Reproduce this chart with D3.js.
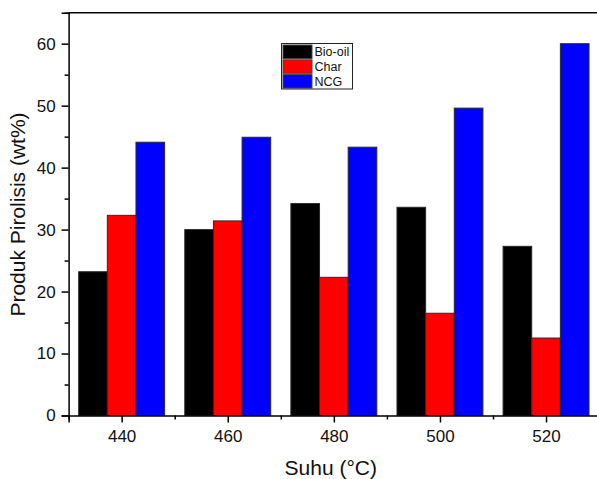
<!DOCTYPE html>
<html>
<head>
<meta charset="utf-8">
<script src="https://cdn.jsdelivr.net/npm/d3@7"></script>
<style>
  html, body { margin: 0; padding: 0; background: #fff; }
  svg { display: block; font-family: Arial, "Liberation Sans", sans-serif; }
</style>
</head>
<body>
<svg id="chart" width="597" height="479"></svg>
<script>
const categories = [440, 460, 480, 500, 520];
const seriesNames = ["Bio-oil", "Char", "NCG"];
const bioOil = [23.2, 30.0, 34.2, 33.6, 27.3];
const charV = [32.3, 31.4, 22.3, 16.5, 12.5];
const ncg = [44.1, 44.9, 43.3, 49.6, 60.0];
const seriesColors = ["#000000", "#ff0000", "#0000ff"];
const yTicks = [0, 10, 20, 30, 40, 50, 60];
const yMinor = [5, 15, 25, 35, 45, 55, 65];
const xTicks = [440, 460, 480, 500, 520];
const xMinor = [430, 450, 470, 490, 510, 530];

const seriesValues = [bioOil, charV, ncg];

const svg = d3.select("#chart");
const x = d3.scaleLinear().domain([430, 530]).range([68.6, 599.1]);
const y = d3.scaleLinear().domain([0, 65]).range([415.5, 12.7]);
const barUnits = 5.4;
const bw = x(430 + barUnits) - x(430);

// bars
seriesValues.forEach((vals, i) => {
  svg.append("g").selectAll("rect")
    .data(vals.map((v, j) => ({ c: categories[j], v })))
    .join("rect")
    .attr("x", d => x(d.c) + (i - 1.5) * bw)
    .attr("y", d => y(d.v))
    .attr("width", bw)
    .attr("height", d => y(0) - y(d.v))
    .attr("fill", seriesColors[i])
    .attr("stroke", "#2a2a2a")
    .attr("stroke-width", 1);
});

// frame: top and right
svg.append("line").attr("x1", x(430)).attr("x2", x(530)).attr("y1", y(65)).attr("y2", y(65))
  .attr("stroke", "#000").attr("stroke-width", 1.5);
svg.append("line").attr("x1", x(530)).attr("x2", x(530)).attr("y1", y(65)).attr("y2", y(0))
  .attr("stroke", "#000").attr("stroke-width", 1.5);

// y axis
const yAxisG = svg.append("g").attr("transform", `translate(${x(430)},0)`)
  .call(d3.axisLeft(y).tickValues(yTicks).tickSize(7).tickPadding(6).tickFormat(d3.format("d")));
svg.append("g").attr("transform", `translate(${x(430)},0)`)
  .call(d3.axisLeft(y).tickValues(yMinor).tickSize(4).tickFormat(""))
  .call(g => g.select(".domain").remove());

// x axis
const xAxisG = svg.append("g").attr("transform", `translate(0,${y(0)})`)
  .call(d3.axisBottom(x).tickValues(xTicks).tickSize(7).tickPadding(7).tickFormat(d3.format("d")));
svg.append("g").attr("transform", `translate(0,${y(0)})`)
  .call(d3.axisBottom(x).tickValues(xMinor).tickSize(4).tickFormat(""))
  .call(g => g.select(".domain").remove());

svg.selectAll(".domain").attr("stroke", "#000").attr("stroke-width", 1.5);
svg.selectAll(".tick line").attr("stroke", "#000").attr("stroke-width", 1.5);
svg.selectAll(".tick text").attr("font-size", 17).attr("fill", "#111")
  .attr("font-family", "Arial, 'Liberation Sans', sans-serif");

// axis titles
svg.append("text")
  .attr("x", (x(430) + 597) / 2 - 2).attr("y", 475)
  .attr("text-anchor", "middle").attr("font-size", 21).attr("fill", "#111")
  .text("Suhu (°C)");
svg.append("text")
  .attr("transform", "translate(25,214.5) rotate(-90)")
  .attr("text-anchor", "middle").attr("font-size", 21).attr("fill", "#111")
  .text("Produk Pirolisis (wt%)");

// legend
const lg = svg.append("g");
lg.append("rect").attr("x", 281.5).attr("y", 43.5).attr("width", 71).attr("height", 45.5)
  .attr("fill", "#fff").attr("stroke", "#222").attr("stroke-width", 1);
seriesNames.forEach((name, i) => {
  const ry = 45 + i * 14.8;
  lg.append("rect").attr("x", 283).attr("y", ry).attr("width", 29).attr("height", 13.5)
    .attr("fill", seriesColors[i]).attr("stroke", "#444").attr("stroke-width", 1);
  lg.append("text").attr("x", 314.5).attr("y", ry + 11).attr("font-size", 12.5).attr("fill", "#111")
    .text(name);
});
</script>
</body>
</html>
